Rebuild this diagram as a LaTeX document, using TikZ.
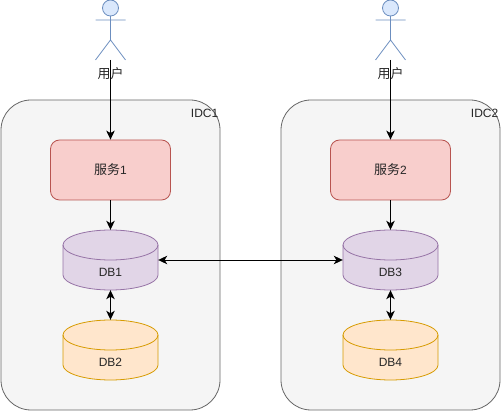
\documentclass[tikz,border=0pt]{standalone}
\usepackage{fontspec}
\setmainfont{Liberation Sans}
\newfontfamily\cjk[Scale=1.08]{Noto Sans CJK SC}
\usetikzlibrary{arrows.meta}
\tikzset{
  x=1pt,y=-1pt,
  idc/.style={draw=black!60!white,fill=black!4,line width=0.8pt,rounded corners=30pt,minimum width=219pt,minimum height=310pt,inner sep=0pt},
  svc/.style={draw={rgb,255:red,184;green,84;blue,80},fill={rgb,255:red,248;green,206;blue,204},line width=0.8pt,rounded corners=9pt,minimum width=120pt,minimum height=60pt,inner sep=0pt,font=\fontsize{12pt}{14pt}\selectfont,text=black!85},
  dbnode/.style={minimum width=95pt,minimum height=60pt,inner sep=0pt},
  lbl/.style={inner sep=0pt,font=\fontsize{12pt}{14pt}\selectfont,text=black!85},
  conn/.style={line width=0.9pt,-{Stealth[length=9pt,width=8.5pt,inset=2.5pt]}},
  biconn/.style={line width=0.9pt,{Stealth[length=9pt,width=8.5pt,inset=2.5pt]}-{Stealth[length=9pt,width=8.5pt,inset=2.5pt]}},
  actor/.style={draw={rgb,255:red,108;green,142;blue,191},line width=0.8pt},
}
\definecolor{purpleline}{RGB}{150,115,166}
\definecolor{purplefill}{RGB}{225,213,231}
\definecolor{orangeline}{RGB}{215,155,0}
\definecolor{orangefill}{RGB}{255,230,204}
\definecolor{actorfill}{RGB}{218,232,252}
% #1 name, #2 cx, #3 cy, #4 line, #5 fill, #6 text
\newcommand{\dbcyl}[6]{%
  \draw[#4,fill=#5,line width=0.8pt] (#2-47.5,#3-15) arc[x radius=47.5,y radius=15,start angle=180,end angle=360]
     -- (#2+47.5,#3+15) arc[x radius=47.5,y radius=15,start angle=0,end angle=180] -- cycle;
  \draw[#4,line width=0.8pt] (#2-47.5,#3-15) arc[x radius=47.5,y radius=15,start angle=180,end angle=0];
  \node[dbnode] (#1) at (#2,#3) {};
  \node[lbl] (#1text) at (#2,#3+12.5) {#6};
}
% #1 cx
\newcommand{\personfig}[1]{%
  \draw[actor,fill=actorfill] (#1,8) circle[radius=8];
  \draw[actor] (#1,16) -- (#1,40) (#1-15,20) -- (#1+15,20) (#1-15,60) -- (#1,40) -- (#1+15,60);
}
\begin{document}
\begin{tikzpicture}
\useasboundingbox (0,0) rectangle (501,411);
\node[idc] (idca) at (110.5,255) {};
\node[idc] (idcb) at (390.5,255) {};
\node[lbl,anchor=east] (idcla) at (218.5,113) {IDC1};
\node[lbl,anchor=east] (idclb) at (498.5,113) {IDC2};
\personfig{110.5}
\personfig{390.5}
\coordinate (ua) at (110.5,60);
\coordinate (ub) at (390.5,60);
\node[lbl] (usera) at (110.5,73.5) {\cjk 用户};
\node[lbl] (userb) at (390.5,73.5) {\cjk 用户};
\node[svc] (sa) at (110.5,170) {{\cjk 服务}1};
\node[svc] (sb) at (390.5,170) {{\cjk 服务}2};
\dbcyl{dba}{110.5}{260}{purpleline}{purplefill}{DB1}
\dbcyl{dbb}{110.5}{350}{orangeline}{orangefill}{DB2}
\dbcyl{dbc}{390.5}{260}{purpleline}{purplefill}{DB3}
\dbcyl{dbd}{390.5}{350}{orangeline}{orangefill}{DB4}
\draw[conn] (ua) -- (sa.north);
\draw[conn] (ub) -- (sb.north);
\draw[conn] (sa.south) -- (dba.north);
\draw[conn] (sb.south) -- (dbc.north);
\draw[biconn] (dba.south) -- (dbb.north);
\draw[biconn] (dbc.south) -- (dbd.north);
\draw[biconn] (dba.east) -- (dbc.west);
\end{tikzpicture}
\end{document}
